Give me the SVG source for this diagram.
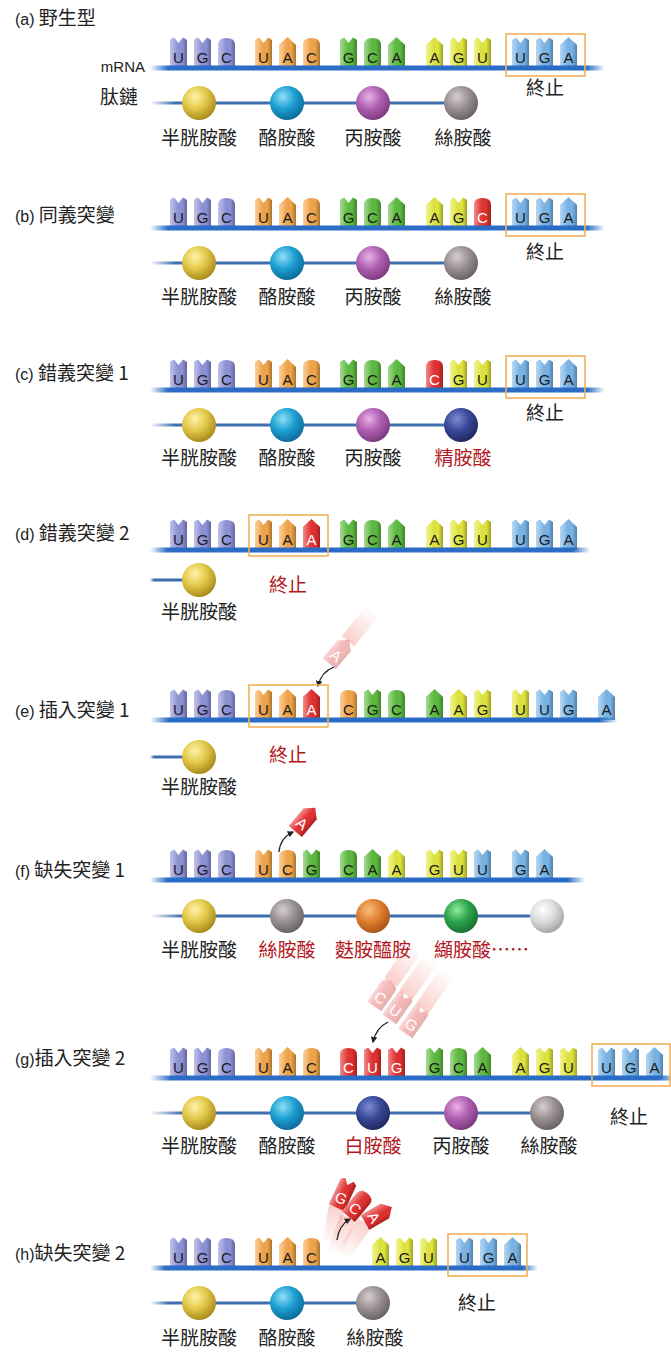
<svg xmlns="http://www.w3.org/2000/svg" width="671" height="1354" viewBox="0 0 671 1354">
<style>
.pu{fill:#8f92d8}.or{fill:#f4a64a}.gr{fill:#5dbb3f}.ye{fill:#e2e73c}.bl{fill:#7ab6e8}.rd{fill:#e3302f}
.nl{font-family:'Liberation Sans',Arial,sans-serif;font-size:15px;fill:#1a1a1a;text-anchor:middle}
.nw{fill:#fff}
.cjk{font-family:'Noto Sans CJK TC','Noto Sans CJK SC',sans-serif;font-size:19px;fill:#222}
.lat{font-family:'Liberation Sans',Arial,sans-serif;font-size:16px}
.mid{text-anchor:middle}
.red{fill:#b3161c}
.box{fill:none;stroke:#f0b25a;stroke-width:1.6}
.pep{fill:url(#pepg)}
.arr{stroke:#222;stroke-width:1.3;fill:none;marker-end:url(#ah)}
</style>
<defs>
  <linearGradient id="shade" x1="0" x2="1" y1="0" y2="0">
    <stop offset="0" stop-color="#fff" stop-opacity="0.45"/>
    <stop offset="0.3" stop-color="#fff" stop-opacity="0.15"/>
    <stop offset="0.7" stop-color="#000" stop-opacity="0"/>
    <stop offset="1" stop-color="#000" stop-opacity="0.3"/>
  </linearGradient>
  <linearGradient id="railg" x1="0" x2="1" y1="0" y2="0">
    <stop offset="0" stop-color="#2a6cc6" stop-opacity="0"/>
    <stop offset="0.04" stop-color="#2a6cc6"/>
    <stop offset="0.96" stop-color="#2a6cc6"/>
    <stop offset="1" stop-color="#2a6cc6" stop-opacity="0"/>
  </linearGradient>
  <linearGradient id="pepg" x1="0" x2="1" y1="0" y2="0">
    <stop offset="0" stop-color="#3f6fae" stop-opacity="0"/>
    <stop offset="0.08" stop-color="#3f6fae"/>
    <stop offset="1" stop-color="#3f6fae"/>
  </linearGradient>
  <linearGradient id="trail" x1="0" x2="1" y1="0" y2="0">
    <stop offset="0" stop-color="#f08a80" stop-opacity="0.4"/>
    <stop offset="1" stop-color="#f08a80" stop-opacity="0"/>
  </linearGradient>
  <radialGradient id="bY" cx="0.38" cy="0.32" r="0.7"><stop offset="0" stop-color="#fff3a8"/><stop offset="0.5" stop-color="#e2c84a"/><stop offset="1" stop-color="#a88a1c"/></radialGradient>
  <radialGradient id="bC" cx="0.38" cy="0.32" r="0.7"><stop offset="0" stop-color="#8ee0f6"/><stop offset="0.5" stop-color="#1ea0d2"/><stop offset="1" stop-color="#0c6a9c"/></radialGradient>
  <radialGradient id="bP" cx="0.38" cy="0.32" r="0.7"><stop offset="0" stop-color="#eab0e8"/><stop offset="0.5" stop-color="#b060b2"/><stop offset="1" stop-color="#7a3a7e"/></radialGradient>
  <radialGradient id="bG" cx="0.38" cy="0.32" r="0.7"><stop offset="0" stop-color="#d8d0d0"/><stop offset="0.5" stop-color="#9a9292"/><stop offset="1" stop-color="#6a6262"/></radialGradient>
  <radialGradient id="bN" cx="0.38" cy="0.32" r="0.7"><stop offset="0" stop-color="#7c8ad0"/><stop offset="0.5" stop-color="#3a4a9a"/><stop offset="1" stop-color="#1e285e"/></radialGradient>
  <radialGradient id="bO" cx="0.38" cy="0.32" r="0.7"><stop offset="0" stop-color="#f8c080"/><stop offset="0.5" stop-color="#e08030"/><stop offset="1" stop-color="#a85418"/></radialGradient>
  <radialGradient id="bV" cx="0.38" cy="0.32" r="0.7"><stop offset="0" stop-color="#90eaa0"/><stop offset="0.5" stop-color="#2ea64e"/><stop offset="1" stop-color="#16702e"/></radialGradient>
  <radialGradient id="bW" cx="0.38" cy="0.32" r="0.7"><stop offset="0" stop-color="#ffffff"/><stop offset="0.5" stop-color="#dcdcdc"/><stop offset="1" stop-color="#a4a4a4"/></radialGradient>
  <!-- nucleotide bodies: notched top (U, G), round top (C), pointed top (A) -->
  <path id="sN" d="M0,0 V-28 L4,-30.5 L8.5,-25 L13,-30.5 L17,-28 V0 Z"/>
  <path id="sC" d="M0,0 V-23 Q0,-30 8.5,-30 Q17,-30 17,-23 V0 Z"/>
  <path id="sA" d="M0,0 V-23 L8.5,-31 L17,-23 V0 Z"/>
  <g id="nN"><use href="#sN"/><use href="#sN" fill="url(#shade)"/></g>
  <g id="nC"><use href="#sC"/><use href="#sC" fill="url(#shade)"/></g>
  <g id="nA"><use href="#sA"/><use href="#sA" fill="url(#shade)"/></g>
  <marker id="ah" viewBox="0 0 10 10" refX="8" refY="5" markerWidth="5" markerHeight="5" orient="auto"><path d="M0,0 L10,5 L0,10 Z" fill="#222"/></marker>
</defs>
<rect width="671" height="1354" fill="#fff"/>

<!-- (a) wild type -->
<g id="panel-a">
  <text class="cjk" x="15" y="25"><tspan class="lat">(a)</tspan> 野生型</text>
  <text x="145" y="72" style="font-family:'Liberation Sans',Arial,sans-serif;font-size:15px;fill:#222;text-anchor:end">mRNA</text>
  <text class="cjk" x="100" y="104">肽鏈</text>
  <g id="mrna-a">
    <use href="#nN" class="pu" x="170" y="68"/><use href="#nN" class="pu" x="194" y="68"/><use href="#nC" class="pu" x="218" y="68"/>
    <use href="#nN" class="or" x="255" y="68"/><use href="#nA" class="or" x="279" y="68"/><use href="#nC" class="or" x="303" y="68"/>
    <use href="#nN" class="gr" x="340" y="68"/><use href="#nC" class="gr" x="364" y="68"/><use href="#nA" class="gr" x="388" y="68"/>
    <use href="#nA" class="ye" x="426" y="68"/><use href="#nN" class="ye" x="450" y="68"/><use href="#nN" class="ye" x="474" y="68"/>
    <use href="#nN" class="bl" x="512" y="68"/><use href="#nN" class="bl" x="536" y="68"/><use href="#nA" class="bl" x="560" y="68"/>
    <rect x="150" y="65.5" width="455" height="5" fill="url(#railg)"/>
    <text class="nl" x="178.5 202.5 226.5 263.5 287.5 311.5 348.5 372.5 396.5 434.5 458.5 482.5 520.5 544.5 568.5" y="63">UGCUACGCAAGUUGA</text>
    <rect class="box" x="506" y="34" width="79" height="42"/>
    <text class="cjk mid" x="545" y="95">終止</text>
  </g>
  <g id="peptide-a">
    <rect class="pep" x="150" y="101.5" width="311" height="3"/>
    <circle cx="199" cy="103" r="17" fill="url(#bY)"/><circle cx="287" cy="103" r="17" fill="url(#bC)"/>
    <circle cx="373" cy="103" r="17" fill="url(#bP)"/><circle cx="461" cy="103" r="17" fill="url(#bG)"/>
    <text class="cjk mid" x="199" y="145">半胱胺酸</text><text class="cjk mid" x="287" y="145">酪胺酸</text>
    <text class="cjk mid" x="373" y="145">丙胺酸</text><text class="cjk mid" x="463" y="145">絲胺酸</text>
  </g>
</g>

<!-- (b) synonymous -->
<g id="panel-b">
  <text class="cjk" x="15" y="222"><tspan class="lat">(b)</tspan> 同義突變</text>
  <g id="mrna-b">
    <use href="#nN" class="pu" x="170" y="228"/><use href="#nN" class="pu" x="194" y="228"/><use href="#nC" class="pu" x="218" y="228"/>
    <use href="#nN" class="or" x="255" y="228"/><use href="#nA" class="or" x="279" y="228"/><use href="#nC" class="or" x="303" y="228"/>
    <use href="#nN" class="gr" x="340" y="228"/><use href="#nC" class="gr" x="364" y="228"/><use href="#nA" class="gr" x="388" y="228"/>
    <use href="#nA" class="ye" x="426" y="228"/><use href="#nN" class="ye" x="450" y="228"/><use href="#nC" class="rd" x="474" y="228"/>
    <use href="#nN" class="bl" x="512" y="228"/><use href="#nN" class="bl" x="536" y="228"/><use href="#nA" class="bl" x="560" y="228"/>
    <rect x="150" y="225.5" width="455" height="5" fill="url(#railg)"/>
    <text class="nl" x="178.5 202.5 226.5 263.5 287.5 311.5 348.5 372.5 396.5 434.5 458.5" y="223">UGCUACGCAAG</text>
    <text class="nl nw" x="482.5" y="223">C</text>
    <text class="nl" x="520.5 544.5 568.5" y="223">UGA</text>
    <rect class="box" x="506" y="194" width="79" height="42"/>
    <text class="cjk mid" x="545" y="259">終止</text>
  </g>
  <g id="peptide-b">
    <rect class="pep" x="150" y="261.5" width="311" height="3"/>
    <circle cx="199" cy="263" r="17" fill="url(#bY)"/><circle cx="287" cy="263" r="17" fill="url(#bC)"/>
    <circle cx="373" cy="263" r="17" fill="url(#bP)"/><circle cx="461" cy="263" r="17" fill="url(#bG)"/>
    <text class="cjk mid" x="199" y="304">半胱胺酸</text><text class="cjk mid" x="287" y="304">酪胺酸</text>
    <text class="cjk mid" x="373" y="304">丙胺酸</text><text class="cjk mid" x="463" y="304">絲胺酸</text>
  </g>
</g>

<!-- (c) missense 1 -->
<g id="panel-c">
  <text class="cjk" x="15" y="380"><tspan class="lat">(c)</tspan> 錯義突變 1</text>
  <g id="mrna-c">
    <use href="#nN" class="pu" x="170" y="390"/><use href="#nN" class="pu" x="194" y="390"/><use href="#nC" class="pu" x="218" y="390"/>
    <use href="#nN" class="or" x="255" y="390"/><use href="#nA" class="or" x="279" y="390"/><use href="#nC" class="or" x="303" y="390"/>
    <use href="#nN" class="gr" x="340" y="390"/><use href="#nC" class="gr" x="364" y="390"/><use href="#nA" class="gr" x="388" y="390"/>
    <use href="#nC" class="rd" x="426" y="390"/><use href="#nN" class="ye" x="450" y="390"/><use href="#nN" class="ye" x="474" y="390"/>
    <use href="#nN" class="bl" x="512" y="390"/><use href="#nN" class="bl" x="536" y="390"/><use href="#nA" class="bl" x="560" y="390"/>
    <rect x="150" y="387.5" width="455" height="5" fill="url(#railg)"/>
    <text class="nl" x="178.5 202.5 226.5 263.5 287.5 311.5 348.5 372.5 396.5" y="385">UGCUACGCA</text>
    <text class="nl nw" x="434.5" y="385">C</text>
    <text class="nl" x="458.5 482.5 520.5 544.5 568.5" y="385">GUUGA</text>
    <rect class="box" x="506" y="356" width="79" height="42"/>
    <text class="cjk mid" x="545" y="420">終止</text>
  </g>
  <g id="peptide-c">
    <rect class="pep" x="150" y="423.5" width="311" height="3"/>
    <circle cx="199" cy="425" r="17" fill="url(#bY)"/><circle cx="287" cy="425" r="17" fill="url(#bC)"/>
    <circle cx="373" cy="425" r="17" fill="url(#bP)"/><circle cx="461" cy="425" r="17" fill="url(#bN)"/>
    <text class="cjk mid" x="199" y="465">半胱胺酸</text><text class="cjk mid" x="287" y="465">酪胺酸</text>
    <text class="cjk mid" x="373" y="465">丙胺酸</text><text class="cjk mid red" x="463" y="465">精胺酸</text>
  </g>
</g>

<!-- (d) missense 2 (premature stop) -->
<g id="panel-d">
  <text class="cjk" x="15" y="540"><tspan class="lat">(d)</tspan> 錯義突變 2</text>
  <g id="mrna-d">
    <use href="#nN" class="pu" x="170" y="550"/><use href="#nN" class="pu" x="194" y="550"/><use href="#nC" class="pu" x="218" y="550"/>
    <use href="#nN" class="or" x="255" y="550"/><use href="#nA" class="or" x="279" y="550"/><use href="#nA" class="rd" x="303" y="550"/>
    <use href="#nN" class="gr" x="340" y="550"/><use href="#nC" class="gr" x="364" y="550"/><use href="#nA" class="gr" x="388" y="550"/>
    <use href="#nA" class="ye" x="426" y="550"/><use href="#nN" class="ye" x="450" y="550"/><use href="#nN" class="ye" x="474" y="550"/>
    <use href="#nN" class="bl" x="512" y="550"/><use href="#nN" class="bl" x="536" y="550"/><use href="#nA" class="bl" x="560" y="550"/>
    <rect x="150" y="547.5" width="440" height="5" fill="url(#railg)"/>
    <text class="nl" x="178.5 202.5 226.5 263.5 287.5" y="545">UGCUA</text>
    <text class="nl nw" x="311.5" y="545">A</text>
    <text class="nl" x="348.5 372.5 396.5 434.5 458.5 482.5 520.5 544.5 568.5" y="545">GCAAGUUGA</text>
    <rect class="box" x="249" y="515" width="79" height="41"/>
    <text class="cjk mid red" x="288" y="592">終止</text>
  </g>
  <g id="peptide-d">
    <rect class="pep" x="150" y="578.5" width="49" height="3"/>
    <circle cx="199" cy="580" r="17" fill="url(#bY)"/>
    <text class="cjk mid" x="199" y="619">半胱胺酸</text>
  </g>
</g>

<!-- (e) insertion 1 -->
<g id="panel-e">
  <text class="cjk" x="15" y="717"><tspan class="lat">(e)</tspan> 插入突變 1</text>
  <g id="insert-e">
    <rect x="0" y="-8" width="40" height="16" fill="url(#trail)" transform="translate(348,641) rotate(-50)"/>
    <g transform="translate(339,652) rotate(40)" opacity="0.35">
      <use href="#nA" class="rd" x="-8.5" y="15"/><text class="nl nw" x="0" y="10">A</text>
    </g>
    <path class="arr" d="M334,667 Q321,672 318,686"/>
  </g>
  <g id="mrna-e">
    <use href="#nN" class="pu" x="170" y="720"/><use href="#nN" class="pu" x="194" y="720"/><use href="#nC" class="pu" x="218" y="720"/>
    <use href="#nN" class="or" x="255" y="720"/><use href="#nA" class="or" x="279" y="720"/><use href="#nA" class="rd" x="303" y="720"/>
    <use href="#nC" class="or" x="340" y="720"/><use href="#nN" class="gr" x="364" y="720"/><use href="#nC" class="gr" x="388" y="720"/>
    <use href="#nA" class="gr" x="426" y="720"/><use href="#nA" class="ye" x="450" y="720"/><use href="#nN" class="ye" x="474" y="720"/>
    <use href="#nN" class="ye" x="512" y="720"/><use href="#nN" class="bl" x="536" y="720"/><use href="#nN" class="bl" x="560" y="720"/>
    <use href="#nA" class="bl" x="598" y="720"/>
    <rect x="150" y="717.5" width="468" height="5" fill="url(#railg)"/>
    <text class="nl" x="178.5 202.5 226.5 263.5 287.5" y="715">UGCUA</text>
    <text class="nl nw" x="311.5" y="715">A</text>
    <text class="nl" x="348.5 372.5 396.5 434.5 458.5 482.5 520.5 544.5 568.5 606.5" y="715">CGCAAGUUGA</text>
    <rect class="box" x="249" y="685" width="79" height="42"/>
    <text class="cjk mid red" x="288" y="762">終止</text>
  </g>
  <g id="peptide-e">
    <rect class="pep" x="150" y="755.5" width="49" height="3"/>
    <circle cx="199" cy="757" r="17" fill="url(#bY)"/>
    <text class="cjk mid" x="199" y="794">半胱胺酸</text>
  </g>
</g>

<!-- (f) deletion 1 -->
<g id="panel-f">
  <text class="cjk" x="15" y="877"><tspan class="lat">(f)</tspan> 缺失突變 1</text>
  <g id="delete-f">
    <g transform="translate(305,820) rotate(40)">
      <use href="#nA" class="rd" x="-8.5" y="15"/><text class="nl nw" x="0" y="10">A</text>
    </g>
    <path class="arr" d="M279,852 Q280,838 293,832"/>
  </g>
  <g id="mrna-f">
    <use href="#nN" class="pu" x="170" y="880"/><use href="#nN" class="pu" x="194" y="880"/><use href="#nC" class="pu" x="218" y="880"/>
    <use href="#nN" class="or" x="255" y="880"/><use href="#nC" class="or" x="279" y="880"/><use href="#nN" class="gr" x="303" y="880"/>
    <use href="#nC" class="gr" x="340" y="880"/><use href="#nA" class="gr" x="364" y="880"/><use href="#nA" class="ye" x="388" y="880"/>
    <use href="#nN" class="ye" x="426" y="880"/><use href="#nN" class="ye" x="450" y="880"/><use href="#nN" class="bl" x="474" y="880"/>
    <use href="#nN" class="bl" x="512" y="880"/><use href="#nA" class="bl" x="536" y="880"/>
    <rect x="150" y="877.5" width="435" height="5" fill="url(#railg)"/>
    <text class="nl" x="178.5 202.5 226.5 263.5 287.5 311.5 348.5 372.5 396.5 434.5 458.5 482.5 520.5 544.5" y="875">UGCUCGCAAGUUGA</text>
  </g>
  <g id="peptide-f">
    <rect class="pep" x="150" y="914.5" width="397" height="3"/>
    <circle cx="199" cy="916" r="17" fill="url(#bY)"/><circle cx="287" cy="916" r="17" fill="url(#bG)"/>
    <circle cx="373" cy="916" r="17" fill="url(#bO)"/><circle cx="461" cy="916" r="17" fill="url(#bV)"/>
    <circle cx="547" cy="916" r="17" fill="url(#bW)"/>
    <text class="cjk mid" x="199" y="957">半胱胺酸</text><text class="cjk mid red" x="287" y="957">絲胺酸</text>
    <text class="cjk mid red" x="373" y="957">麩胺醯胺</text><text class="cjk red" x="434" y="957">纈胺酸……</text>
  </g>
</g>

<!-- (g) insertion 2 (in-frame codon) -->
<g id="panel-g">
  <text class="cjk" x="15" y="1065"><tspan class="lat">(g)</tspan>插入突變 2</text>
  <g id="insert-g">
    <rect x="0" y="-8" width="44" height="16" fill="url(#trail)" transform="translate(391,982) rotate(-55)"/>
    <rect x="0" y="-8" width="44" height="16" fill="url(#trail)" transform="translate(406,995) rotate(-55)"/>
    <rect x="0" y="-8" width="44" height="16" fill="url(#trail)" transform="translate(422,1009) rotate(-55)"/>
    <g transform="translate(383,994) rotate(35)" opacity="0.35">
      <use href="#nC" class="rd" x="-8.5" y="15"/><text class="nl nw" x="0" y="10">C</text>
    </g>
    <g transform="translate(398,1007) rotate(35)" opacity="0.35">
      <use href="#nN" class="rd" x="-8.5" y="15"/><text class="nl nw" x="0" y="10">U</text>
    </g>
    <g transform="translate(414,1021) rotate(35)" opacity="0.35">
      <use href="#nN" class="rd" x="-8.5" y="15"/><text class="nl nw" x="0" y="10">G</text>
    </g>
    <path class="arr" d="M388,1022 Q376,1028 373,1042"/>
  </g>
  <g id="mrna-g">
    <use href="#nN" class="pu" x="170" y="1078"/><use href="#nN" class="pu" x="194" y="1078"/><use href="#nC" class="pu" x="218" y="1078"/>
    <use href="#nN" class="or" x="255" y="1078"/><use href="#nA" class="or" x="279" y="1078"/><use href="#nC" class="or" x="303" y="1078"/>
    <use href="#nC" class="rd" x="340" y="1078"/><use href="#nN" class="rd" x="364" y="1078"/><use href="#nN" class="rd" x="388" y="1078"/>
    <use href="#nN" class="gr" x="426" y="1078"/><use href="#nC" class="gr" x="450" y="1078"/><use href="#nA" class="gr" x="474" y="1078"/>
    <use href="#nA" class="ye" x="512" y="1078"/><use href="#nN" class="ye" x="536" y="1078"/><use href="#nN" class="ye" x="560" y="1078"/>
    <use href="#nN" class="bl" x="598" y="1078"/><use href="#nN" class="bl" x="622" y="1078"/><use href="#nA" class="bl" x="646" y="1078"/>
    <rect x="150" y="1075.5" width="530" height="5" fill="url(#railg)"/>
    <text class="nl" x="178.5 202.5 226.5 263.5 287.5 311.5" y="1073">UGCUAC</text>
    <text class="nl nw" x="348.5 372.5 396.5" y="1073">CUG</text>
    <text class="nl" x="434.5 458.5 482.5 520.5 544.5 568.5 606.5 630.5 654.5" y="1073">GCAAGUUGA</text>
    <rect class="box" x="592" y="1044" width="78" height="42"/>
    <text class="cjk mid" x="629" y="1124">終止</text>
  </g>
  <g id="peptide-g">
    <rect class="pep" x="150" y="1111.5" width="397" height="3"/>
    <circle cx="199" cy="1113" r="17" fill="url(#bY)"/><circle cx="287" cy="1113" r="17" fill="url(#bC)"/>
    <circle cx="373" cy="1113" r="17" fill="url(#bN)"/><circle cx="461" cy="1113" r="17" fill="url(#bP)"/>
    <circle cx="547" cy="1113" r="17" fill="url(#bG)"/>
    <text class="cjk mid" x="199" y="1153">半胱胺酸</text><text class="cjk mid" x="287" y="1153">酪胺酸</text>
    <text class="cjk mid red" x="373" y="1153">白胺酸</text><text class="cjk mid" x="461" y="1153">丙胺酸</text>
    <text class="cjk mid" x="549" y="1153">絲胺酸</text>
  </g>
</g>

<!-- (h) deletion 2 (in-frame codon) -->
<g id="panel-h">
  <text class="cjk" x="15" y="1260"><tspan class="lat">(h)</tspan>缺失突變 2</text>
  <g id="delete-h">
    <rect x="0" y="-8" width="40" height="16" fill="url(#trail)" transform="translate(337,1206) rotate(100)"/>
    <rect x="0" y="-8" width="40" height="16" fill="url(#trail)" transform="translate(348,1217) rotate(110)"/>
    <rect x="0" y="-8" width="40" height="16" fill="url(#trail)" transform="translate(365,1223) rotate(125)"/>
    <g transform="translate(343,1194) rotate(25)">
      <use href="#nN" class="rd" x="-8.5" y="15"/><text class="nl nw" x="0" y="10">G</text>
    </g>
    <g transform="translate(358,1205) rotate(40)">
      <use href="#nC" class="rd" x="-8.5" y="15"/><text class="nl nw" x="0" y="10">C</text>
    </g>
    <g transform="translate(378,1215) rotate(60)">
      <use href="#nA" class="rd" x="-8.5" y="15"/><text class="nl nw" x="0" y="10">A</text>
    </g>
    <path class="arr" d="M337,1240 Q339,1225 350,1219"/>
  </g>
  <g id="mrna-h">
    <use href="#nN" class="pu" x="170" y="1268"/><use href="#nN" class="pu" x="194" y="1268"/><use href="#nC" class="pu" x="218" y="1268"/>
    <use href="#nN" class="or" x="255" y="1268"/><use href="#nA" class="or" x="279" y="1268"/><use href="#nC" class="or" x="303" y="1268"/>
    <use href="#nA" class="ye" x="372" y="1268"/><use href="#nN" class="ye" x="396" y="1268"/><use href="#nN" class="ye" x="420" y="1268"/>
    <use href="#nN" class="bl" x="456" y="1268"/><use href="#nN" class="bl" x="480" y="1268"/><use href="#nA" class="bl" x="504" y="1268"/>
    <rect x="150" y="1265.5" width="388" height="5" fill="url(#railg)"/>
    <text class="nl" x="178.5 202.5 226.5 263.5 287.5 311.5 380.5 404.5 428.5 464.5 488.5 512.5" y="1263">UGCUACAGUUGA</text>
    <rect class="box" x="448" y="1234" width="79" height="42"/>
    <text class="cjk mid" x="477" y="1310">終止</text>
  </g>
  <g id="peptide-h">
    <rect class="pep" x="150" y="1301.5" width="223" height="3"/>
    <circle cx="199" cy="1303" r="17" fill="url(#bY)"/><circle cx="287" cy="1303" r="17" fill="url(#bC)"/>
    <circle cx="373" cy="1303" r="17" fill="url(#bG)"/>
    <text class="cjk mid" x="199" y="1345">半胱胺酸</text><text class="cjk mid" x="287" y="1345">酪胺酸</text>
    <text class="cjk mid" x="375" y="1345">絲胺酸</text>
  </g>
</g>
</svg>
